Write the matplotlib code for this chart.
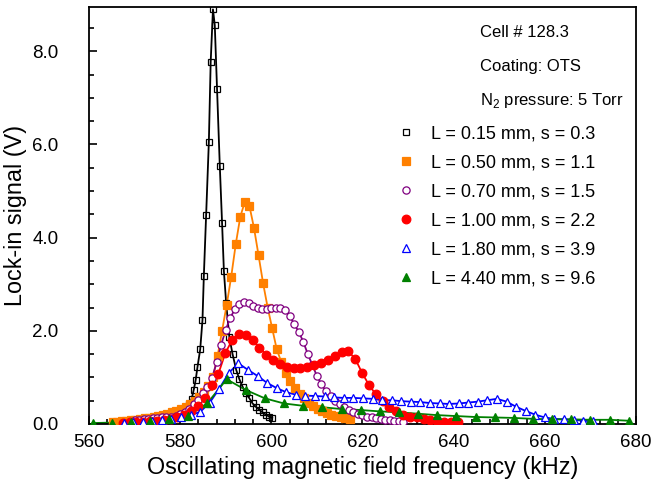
import numpy as np
import matplotlib
matplotlib.use('Agg')
import matplotlib.pyplot as plt
from matplotlib.ticker import MultipleLocator, FormatStrFormatter

plt.rcParams['font.family'] = ['Liberation Sans', 'DejaVu Sans']
plt.rcParams['mathtext.fontset'] = 'custom'
plt.rcParams['mathtext.rm'] = 'Liberation Sans'

# L = 0.15 mm
black_x = [576.0, 577.2, 578.4, 579.5, 580.5, 581.3, 582.0, 582.5, 583.0, 583.4,
           583.8, 584.4, 584.9, 585.2, 585.7, 586.3, 586.7, 587.2, 587.6, 588.1,
           588.7, 589.2, 589.6, 590.1, 590.8, 591.5, 592.3, 593.0, 593.7, 594.4,
           595.2, 595.9, 596.6, 597.4, 598.1, 598.8, 599.5, 600.2]
black_y = [0.10, 0.13, 0.17, 0.22, 0.28, 0.35, 0.42, 0.53, 0.74, 0.94,
           1.22, 1.60, 2.23, 3.18, 4.48, 6.06, 7.77, 8.90, 8.56, 7.18,
           5.54, 4.31, 3.28, 2.59, 1.86, 1.50, 1.16, 0.96, 0.80, 0.66,
           0.55, 0.44, 0.37, 0.30, 0.25, 0.20, 0.16, 0.13]

# L = 0.50 mm, 1 kHz steps from 565.2
orange_y = [0.04, 0.05, 0.06, 0.07, 0.08, 0.09, 0.10, 0.12, 0.13, 0.15,
            0.17, 0.19, 0.22, 0.25, 0.28, 0.32, 0.37, 0.43, 0.50, 0.58,
            0.68, 0.82, 1.00, 1.45, 2.00, 2.55, 3.16, 3.86, 4.45, 4.77,
            4.68, 4.21, 3.62, 3.02, 2.50, 2.05, 1.60, 1.33, 1.10, 0.92,
            0.77, 0.64, 0.55, 0.46, 0.39, 0.33, 0.28, 0.24, 0.20, 0.17,
            0.14, 0.12, 0.10]
orange_x = np.linspace(565.2, 565.2 + len(orange_y) - 1, len(orange_y))

# L = 0.70 mm, 1 kHz steps from 570
purple_y = [0.08, 0.09, 0.10, 0.11, 0.12, 0.13, 0.14, 0.15, 0.16, 0.18,
            0.21, 0.26, 0.33, 0.42, 0.52, 0.67, 0.80, 0.99, 1.32, 1.70,
            2.02, 2.28, 2.46, 2.57, 2.61, 2.59, 2.54, 2.50, 2.47, 2.47,
            2.48, 2.50, 2.50, 2.45, 2.32, 2.15, 1.98, 1.77, 1.50, 1.27,
            1.03, 0.85, 0.70, 0.59, 0.49, 0.42, 0.36, 0.30, 0.26, 0.22,
            0.19, 0.16, 0.14, 0.12, 0.10, 0.09, 0.08, 0.07, 0.06, 0.05]
purple_x = np.linspace(570, 570 + len(purple_y) - 1, len(purple_y))

# L = 1.00 mm, 1.5 kHz steps from 567.4
red_y = [0.03, 0.04, 0.04, 0.05, 0.06, 0.07, 0.09, 0.11, 0.14, 0.19,
         0.27, 0.38, 0.55, 0.84, 1.08, 1.52, 1.80, 1.94, 1.90, 1.80,
         1.64, 1.48, 1.37, 1.28, 1.22, 1.20, 1.20, 1.22, 1.26, 1.31,
         1.38, 1.46, 1.54, 1.56, 1.40, 1.10, 0.84, 0.64, 0.49, 0.37,
         0.27, 0.20, 0.16, 0.14, 0.11, 0.08, 0.07, 0.05, 0.04, 0.04]
red_x = np.linspace(567.4, 567.4 + 1.5 * (len(red_y) - 1), len(red_y))

# L = 1.80 mm, 2.1 kHz steps from 567.6
blue_y = [0.03, 0.04, 0.05, 0.06, 0.08, 0.10, 0.14, 0.19, 0.26, 0.46,
          0.76, 1.10, 1.30, 1.16, 1.03, 0.88, 0.77, 0.68, 0.63, 0.61,
          0.60, 0.59, 0.57, 0.56, 0.56, 0.55, 0.54, 0.51, 0.51, 0.49,
          0.48, 0.47, 0.45, 0.44, 0.43, 0.44, 0.46, 0.48, 0.51, 0.54,
          0.48, 0.37, 0.28, 0.20, 0.14, 0.11, 0.10, 0.09, 0.07, 0.06]
blue_x = np.linspace(567.6, 567.6 + 2.1 * (len(blue_y) - 1), len(blue_y))

# L = 4.40 mm, 4.2 kHz steps from 560.8
green_y = [0.02, 0.03, 0.05, 0.07, 0.10, 0.17, 0.45, 0.96, 0.73, 0.55,
           0.44, 0.39, 0.36, 0.32, 0.30, 0.27, 0.25, 0.22, 0.19, 0.17,
           0.15, 0.14, 0.13, 0.11, 0.10, 0.10, 0.09, 0.09, 0.07]
green_x = np.linspace(560.8, 560.8 + 4.2 * (len(green_y) - 1), len(green_y))

series = [
    (black_x, black_y, 'black', 's', 'none', 4.3, 'L = 0.15 mm, s = 0.3'),
    (orange_x, orange_y, '#FF8000', 's', '#FF8000', 5.2, 'L = 0.50 mm, s = 1.1'),
    (purple_x, purple_y, '#800080', 'o', 'white', 5.2, 'L = 0.70 mm, s = 1.5'),
    (red_x, red_y, '#FF0000', 'o', '#FF0000', 6.2, 'L = 1.00 mm, s = 2.2'),
    (blue_x, blue_y, '#0000FF', '^', 'white', 5.7, 'L = 1.80 mm, s = 3.9'),
    (green_x, green_y, '#008000', '^', '#008000', 5.7, 'L = 4.40 mm, s = 9.6'),
]

fig = plt.figure(figsize=(6.71, 4.84), dpi=100)
ax = fig.add_axes([0.1326, 0.124, 0.8152, 0.8615])

for x, y, c, m, fc, ms, lab in series:
    ax.plot(x, y, color=c, lw=1.3, zorder=2)
for x, y, c, m, fc, ms, lab in series:
    ax.plot(x, y, ls='none', marker=m, ms=ms, mfc=fc, mec=c, mew=0.9,
            label=lab, zorder=3)

ax.set_xlim(560, 680)
ax.set_ylim(0, 8.95)
ax.xaxis.set_major_locator(MultipleLocator(20))
ax.xaxis.set_minor_locator(MultipleLocator(4))
ax.yaxis.set_major_locator(MultipleLocator(2))
ax.yaxis.set_minor_locator(MultipleLocator(0.5))
ax.yaxis.set_major_formatter(FormatStrFormatter('%.1f'))
ax.tick_params(which='both', direction='in', top=False, right=False,
               width=1.2, labelsize=13.5)
ax.tick_params(which='major', length=6)
ax.tick_params(which='minor', length=3.5)
ax.tick_params(axis='x', pad=7)
ax.tick_params(axis='y', pad=22)
for sp in ax.spines.values():
    sp.set_linewidth(1.3)

ax.set_xlabel('Oscillating magnetic field frequency (kHz)', fontsize=16.8, labelpad=4)
ax.set_ylabel('Lock-in signal (V)', fontsize=16.8, labelpad=4)

ax.text(0.715, 0.94, 'Cell # 128.3', transform=ax.transAxes, fontsize=12,
        va='center')
ax.text(0.715, 0.857, 'Coating: OTS', transform=ax.transAxes, fontsize=12,
        va='center')
ax.text(0.715, 0.775, 'N$_2$ pressure: 5 Torr', transform=ax.transAxes,
        fontsize=12, va='center')

ax.legend(loc='upper left', bbox_to_anchor=(0.546, 0.733), frameon=False,
          fontsize=13, handlelength=1.2, handletextpad=0.8,
          labelspacing=0.66, borderaxespad=0)

fig.savefig('out.png', dpi=100)
